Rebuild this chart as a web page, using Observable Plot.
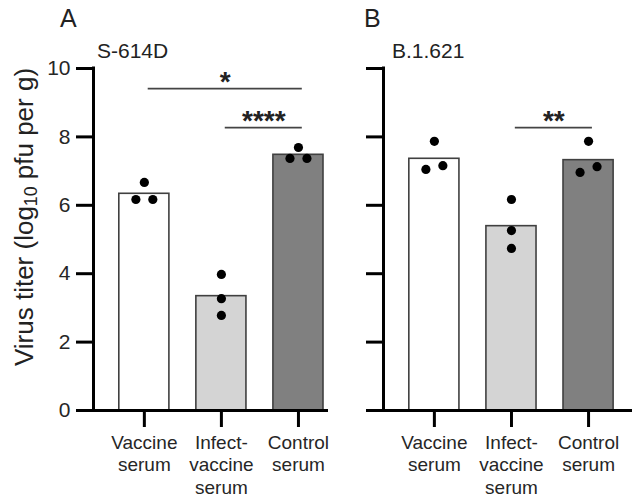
<!DOCTYPE html>
<html>
<head>
<meta charset="utf-8">
<script src="https://cdn.jsdelivr.net/npm/d3@7"></script>
<script src="https://cdn.jsdelivr.net/npm/@observablehq/plot@0.6"></script>
<style>
  html, body { margin: 0; padding: 0; background: #fff; }
  #page { position: relative; width: 632px; height: 498px; overflow: hidden; font-family: "Liberation Sans", Arial, sans-serif; color: #222; }
  .abs { position: absolute; line-height: 1; white-space: nowrap; }
  #ylab { left: 24px; top: 217px; font-size: 26px; transform: translate(-50%, -50%) rotate(-90deg); }
  #ylab sub { font-size: 0.68em; line-height: 0; vertical-align: -0.25em; }
</style>
</head>
<body>
<div id="page">
  <div id="plotA" class="abs" style="left:0;top:0;"></div>
  <div id="plotB" class="abs" style="left:335px;top:0;"></div>
  <div class="abs" style="left:60px;top:6px;font-size:25px;">A</div>
  <div class="abs" style="left:97px;top:40px;font-size:21px;">S-614D</div>
  <div class="abs" style="left:364px;top:6px;font-size:25px;">B</div>
  <div class="abs" style="left:392px;top:40px;font-size:21px;">B.1.621</div>
  <div id="ylab" class="abs">Virus titer (log<sub>10</sub> pfu per g)</div>
</div>
<script>
// ---- data ----
const categories = ["Vaccine\nserum", "Infect-\nvaccine\nserum", "Control\nserum"];
const yTicks = [0, 2, 4, 6, 8, 10];

// Panel A: S-614D, virus titer (log10 pfu per g), individual animals
const aVaccine = [6.67, 6.17, 6.17];
const aInfect  = [3.98, 3.27, 2.78];
const aControl = [7.69, 7.37, 7.37];

// Panel B: B.1.621
const bVaccine = [7.87, 7.05, 7.16];
const bInfect  = [6.17, 5.26, 4.74];
const bControl = [7.87, 7.13, 6.96];

// significance brackets: [from group, to group, label, height]
const sigA = [[0, 2, "*", 9.41], [1, 2, "****", 8.27]];
const sigB = [[1, 2, "**", 8.27]];

// ---- helpers ----
const barFills = ["#ffffff", "#d4d4d4", "#808080"];
const FONT = "'Liberation Sans', Arial, sans-serif";

function buildPoints(groups) {
  const pts = [];
  groups.forEach((vals, i) => {
    // cluster near-equal values and spread them side by side
    const sorted = vals.slice().sort((a, b) => a - b);
    const clusters = [];
    sorted.forEach(v => {
      const last = clusters[clusters.length - 1];
      if (last && v - last[last.length - 1] < 0.3) last.push(v);
      else clusters.push([v]);
    });
    clusters.forEach(c => {
      c.forEach((v, k) => pts.push({i, v, off: (k - (c.length - 1) / 2) * 0.22}));
    });
  });
  return pts;
}

function panel(groups, sig, {width, marginLeft, marginRight, xDomain, showLabels}) {
  const bars = groups.map((vals, i) => ({i, mean: d3.mean(vals), cat: categories[i]}));
  const pts = buildPoints(groups);
  const sigs = sig.map(([a, b, label, h]) => ({a, b, label, h, mid: (a + b) / 2}));
  return Plot.plot({
    width, height: 498,
    marginTop: 68, marginBottom: 88, marginLeft, marginRight,
    style: {fontFamily: FONT, background: "transparent", overflow: "visible"},
    x: {type: "linear", domain: xDomain, axis: null},
    y: {domain: [0, 10], axis: null},
    color: {domain: categories, range: barFills},
    marks: [
      Plot.rectY(bars, {x1: d => d.i - 0.325, x2: d => d.i + 0.325, y1: 0, y2: "mean",
        fill: "cat", stroke: "#404040", strokeWidth: 1.6}),
      Plot.dot(pts, {x: d => d.i + d.off, y: "v", r: 4.6, fill: "black", stroke: "none"}),
      Plot.ruleY(sigs, {y: "h", x1: d => d.a + 0.05, x2: d => d.b + 0.05, stroke: "#444", strokeWidth: 1.8}),
      Plot.text(sigs, {x: d => d.mid + 0.05, y: "h", text: "label", lineAnchor: "bottom", dy: 2.5,
        fontSize: 28, fontWeight: "bold", fill: "#222"}),
      Plot.axisY({ticks: yTicks, tickSize: 17, tickPadding: 6, strokeWidth: 3, stroke: "black",
        color: "#262626", fontSize: 21, label: null,
        tickFormat: showLabels ? (d => String(d)) : (() => "")}),
      Plot.axisX({ticks: [0, 1, 2], tickSize: 17, tickPadding: 5, strokeWidth: 3, stroke: "black",
        color: "#262626", fontSize: 19, lineHeight: 1.2, label: null,
        tickFormat: d => categories[d]}),
      Plot.ruleX([xDomain[0]], {y1: 0, y2: 10, stroke: "black", strokeWidth: 3, strokeLinecap: "square"}),
      Plot.ruleY([0], {stroke: "black", strokeWidth: 3})
    ]
  });
}

document.getElementById("plotA").append(
  panel([aVaccine, aInfect, aControl], sigA,
    {width: 335, marginLeft: 93, marginRight: 7, xDomain: [-0.66, 2.39], showLabels: true}));
document.getElementById("plotB").append(
  panel([bVaccine, bInfect, bControl], sigB,
    {width: 297, marginLeft: 48, marginRight: 0, xDomain: [-0.66, 2.57], showLabels: false}));
</script>
</body>
</html>
